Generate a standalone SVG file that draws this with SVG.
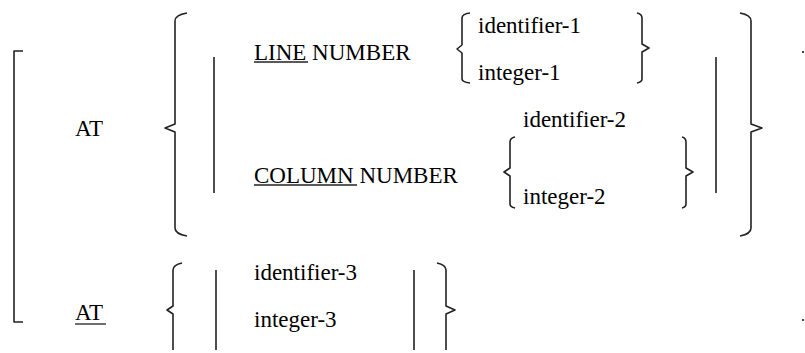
<svg xmlns="http://www.w3.org/2000/svg" width="805" height="353" viewBox="0 0 805 353">
<style>
.ln{fill:none;stroke:#222;stroke-width:1.6;stroke-linejoin:round}
.ul{stroke:#222;stroke-width:1.3}
</style>
<rect width="805" height="353" fill="#fff"/>
<g id="outer-bracket">
<path class="ln" d="M23 51H14V322H23"/>
<rect x="802" y="51" width="2" height="2" fill="#444"/>
<rect x="802" y="319" width="2" height="2" fill="#444"/>
</g>
<g id="braces">
<path class="ln" d="M187 13Q175 15 175 21V124L165 128L175 132V228Q175 234 187 236"/>
<path class="ln" d="M740 13Q751 15 751 21V124L762 128L751 132V228Q751 234 740 236"/>
<path class="ln" d="M470 13Q462 14 462 18V45L457 49L462 53V79Q462 82 470 83"/>
<path class="ln" d="M637 13Q642 14 642 18V44L649 48L642 52V79Q642 82 637 83"/>
<path class="ln" d="M515 137Q510 138 510 142V168L504 172L510 176V204Q510 207 515 208"/>
<path class="ln" d="M682 137Q686 138 686 142V168L693 172L686 176V204Q686 207 682 208"/>
<path class="ln" d="M182 263Q173 265 173 270V306L167 310L173 314V350"/>
<path class="ln" d="M437 263Q446 265 446 270V306L455 310L446 314V350"/>
<path class="ln" d="M214 57V193M716 57V193M216 270V350M414 270V350"/>
</g>
<g id="underlines">
<line class="ul" x1="254" y1="62" x2="308" y2="62"/>
<line class="ul" x1="254" y1="185" x2="357" y2="185"/>
<line class="ul" x1="75" y1="324" x2="106" y2="324"/>
</g>
<g id="at-1"><text x="75" y="136" style="font-family:serif;font-size:23px">AT</text></g>
<g id="line-number"><text x="254" y="60" style="font-family:serif;font-size:23px">LINE NUMBER</text></g>
<g id="operands-1">
<text x="478" y="33" style="font-family:serif;font-size:23px">identifier-1</text>
<text x="478" y="80" style="font-family:serif;font-size:23px">integer-1</text>
</g>
<g id="column-number"><text x="254" y="183" style="font-family:serif;font-size:23px">COLUMN NUMBER</text></g>
<g id="operands-2">
<text x="523" y="127" style="font-family:serif;font-size:23px">identifier-2</text>
<text x="523" y="204" style="font-family:serif;font-size:23px">integer-2</text>
</g>
<g id="at-2"><text x="75" y="320" style="font-family:serif;font-size:23px">AT</text></g>
<g id="operands-3">
<text x="254" y="280" style="font-family:serif;font-size:23px">identifier-3</text>
<text x="254" y="327" style="font-family:serif;font-size:23px">integer-3</text>
</g>
</svg>
